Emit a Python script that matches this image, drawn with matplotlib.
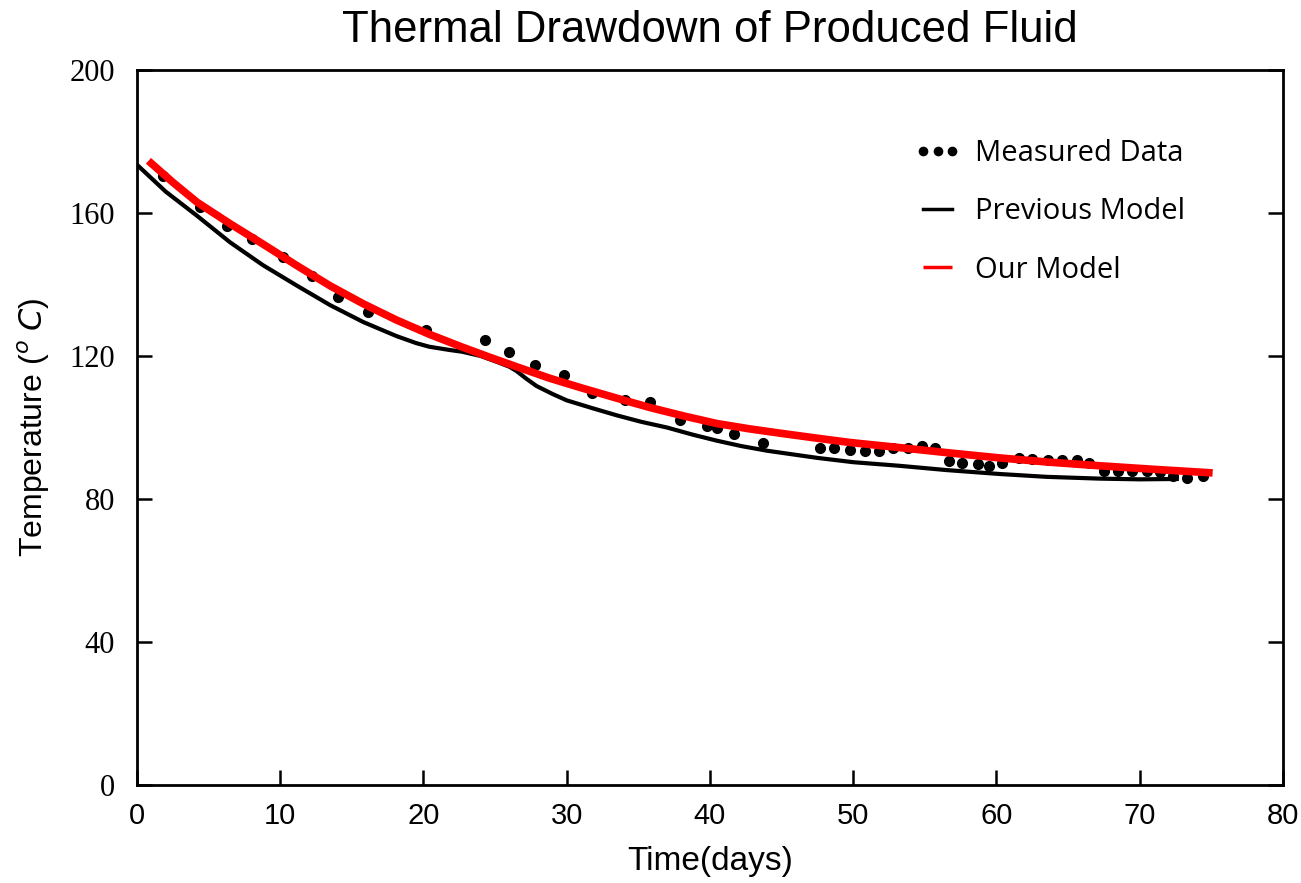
import matplotlib
matplotlib.use("Agg")
import matplotlib.pyplot as plt
from matplotlib import font_manager

# measured data (days, temperature in C)
meas_t = [1.8, 4.4, 6.3, 8.0, 10.2, 12.2, 14.0, 16.1, 20.2, 24.3, 26.0, 27.8, 29.8,
          31.8, 34.1, 35.8, 37.9, 39.8, 40.5, 41.7, 43.7, 47.7, 48.7, 49.8, 50.8,
          51.8, 52.8, 53.8, 54.8, 55.7, 56.7, 57.6, 58.7, 59.5, 60.4, 61.6, 62.5,
          63.6, 64.6, 65.6, 66.5, 67.5, 68.5, 69.5, 70.5, 71.4, 72.3, 73.3, 74.4]
meas_T = [170.4, 161.7, 156.3, 152.7, 147.6, 142.3, 136.6, 132.4, 127.3, 124.5, 121.1,
          117.5, 114.6, 109.6, 107.6, 107.0, 102.0, 100.3, 100.0, 98.3, 95.8, 94.4,
          94.4, 93.8, 93.5, 93.5, 94.4, 94.4, 94.9, 94.4, 90.7, 90.1, 89.9, 89.3,
          90.1, 91.5, 91.3, 91.0, 90.8, 90.8, 90.1, 87.9, 87.9, 87.9, 87.9, 87.6,
          86.5, 85.9, 86.5]

# previous model
prev_t = [0, 2.0, 4.2, 6.5, 8.8, 11.2, 13.5, 15.8, 18.1, 19.5, 20.4, 21.8, 22.7,
          24.0, 25.1, 26.0, 26.5, 27.2, 27.9, 29.0, 30.0, 31.8, 33.5, 35.2, 37.0,
          38.8, 40.5, 42.2, 44.0, 47.5, 50.0, 53.2, 56.5, 60.2, 63.5, 67.2, 70.0, 72.6]
prev_T = [173.5, 166.0, 159.2, 151.8, 145.4, 139.6, 134.2, 129.5, 125.6, 123.6, 122.6,
          121.7, 121.2, 120.0, 118.4, 117.0, 115.8, 113.6, 111.6, 109.4, 107.6, 105.4,
          103.4, 101.6, 100.0, 98.0, 96.3, 94.8, 93.5, 91.5, 90.3, 89.3, 88.1, 87.0,
          86.2, 85.7, 85.5, 85.6]

# our model
ours_t = [0.8, 2.5, 4.2, 6.5, 8.8, 11.2, 13.5, 15.8, 18.1, 20.4, 22.7, 24.6, 26.5,
          28.8, 31.1, 33.5, 35.8, 38.2, 40.5, 42.8, 45.1, 47.5, 49.8, 53.2, 56.7,
          60.2, 63.7, 67.2, 71.0, 75.1]
ours_T = [174.6, 168.6, 163.0, 157.0, 151.3, 145.2, 139.6, 134.6, 130.1, 126.1, 122.5,
          119.7, 117.0, 113.8, 111.0, 108.2, 105.6, 103.2, 101.1, 99.6, 98.3, 97.0,
          95.8, 94.4, 92.9, 91.5, 90.3, 89.3, 88.3, 87.3]

installed = {f.name for f in font_manager.fontManager.ttflist}
narrow = 'Liberation Sans Narrow' if 'Liberation Sans Narrow' in installed else 'Liberation Sans'

fig = plt.figure(figsize=(13.01, 8.83), dpi=100)
ax = fig.add_axes([0.1053, 0.111, 0.8807, 0.8097])

ax.plot(meas_t, meas_T, 'o', color='black', markersize=7, label='Measured Data')
ax.plot(prev_t, prev_T, '-', color='black', linewidth=3.0, label='Previous Model')
ax.plot(ours_t, ours_T, '-', color='red', linewidth=5.5, label='Our Model',
        solid_capstyle='butt')

ax.set_xlim(0, 80)
ax.set_ylim(0, 200)
xt = list(range(0, 81, 10))
yt = list(range(0, 201, 40))
ax.set_xticks(xt, [str(v) for v in xt], fontsize=21, family=narrow)
ax.set_yticks(yt, [str(v) for v in yt], fontsize=22, family='Liberation Serif')
ax.tick_params(direction='in', length=11, width=1.8, right=True, pad=12)
ax.tick_params(axis='y', pad=16)
for s in ax.spines.values():
    s.set_linewidth(2)

ax.set_title('Thermal Drawdown of Produced Fluid', fontsize=31.5,
             family='Liberation Sans', pad=20)
ax.set_xlabel('Time(days)', fontsize=24, family=narrow, labelpad=12)
ax.set_ylabel(r'Temperature ($^o$ $C$)', fontsize=23, family='Liberation Sans',
              labelpad=12)

leg = ax.legend(loc='upper right', bbox_to_anchor=(0.938, 0.94), frameon=False,
                numpoints=3, markerscale=0.85, handlelength=1.6, handletextpad=0.5,
                labelspacing=1.0, prop={'family': 'Open Sans', 'size': 21})
for h in leg.get_lines()[1:]:
    h.set_linewidth(2.5)

fig.savefig('out.png', dpi=100)
